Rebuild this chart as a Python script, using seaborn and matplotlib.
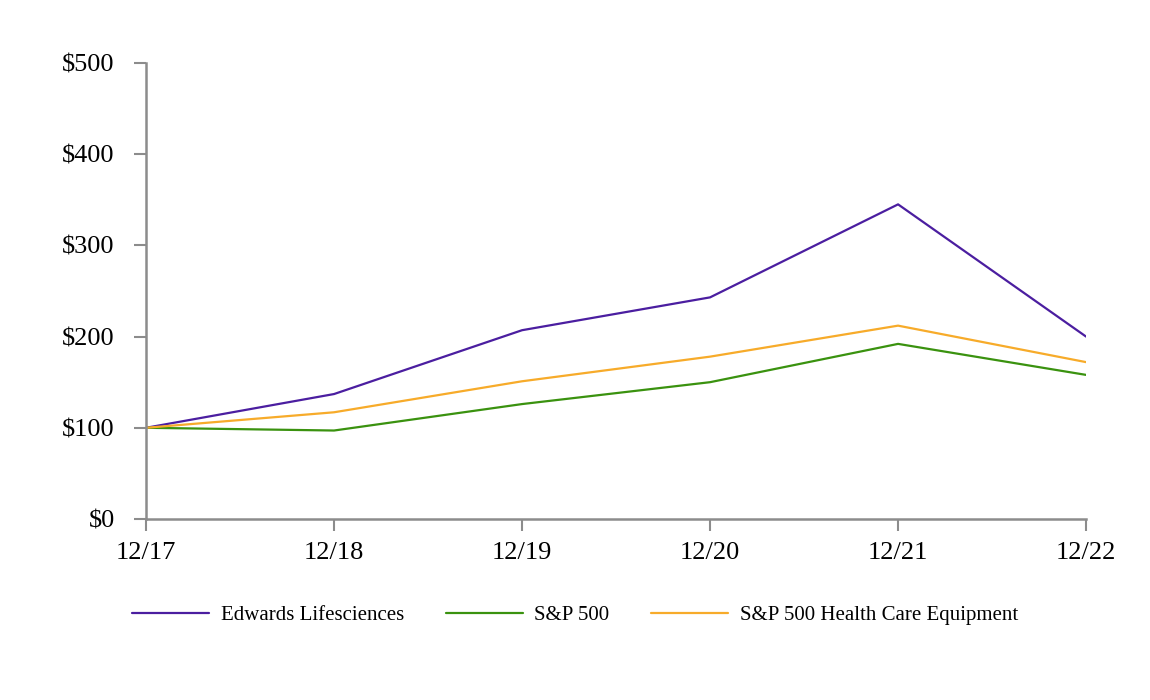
import matplotlib
matplotlib.use("Agg")
import matplotlib.pyplot as plt
import seaborn as sns
import pandas as pd
from matplotlib.lines import Line2D

periods = ["12/17", "12/18", "12/19", "12/20", "12/21", "12/22"]
edwards = [100, 137, 207, 243, 345, 200]
sp500 = [100, 97, 126, 150, 192, 158]
hc_equipment = [100, 117, 151, 178, 212, 172]
series_names = ["Edwards Lifesciences", "S&P 500", "S&P 500 Health Care Equipment"]
y_ticks = [0, 100, 200, 300, 400, 500]
y_labels = ["$0", "$100", "$200", "$300", "$400", "$500"]

colors = ["#4b1ea0", "#3a920f", "#f7ab2a"]

rows = []
for name, vals in zip(series_names, [edwards, sp500, hc_equipment]):
    for i, v in enumerate(vals):
        rows.append({"x": i, "value": v, "series": name})
df = pd.DataFrame(rows)

sns.set_theme(style="white")
plt.rcParams["font.family"] = ["Liberation Serif", "DejaVu Serif"]
plt.rcParams["text.color"] = "black"

fig = plt.figure(figsize=(11.5, 7), dpi=100)
ax = fig.add_axes([0.127, 0.2586, 0.8174, 0.6514])
sns.lineplot(data=df, x="x", y="value", hue="series", palette=colors,
             hue_order=series_names, ax=ax, linewidth=1.6, legend=False)

ax.set_xlim(0, len(periods) - 1)
ax.set_ylim(0, 500)
ax.set_xticks(range(len(periods)))
ax.set_xticklabels(periods, fontsize=19)
ax.set_yticks(y_ticks)
ax.set_yticklabels(y_labels, fontsize=19)
ax.set_xlabel("")
ax.set_ylabel("")
for s in ["top", "right"]:
    ax.spines[s].set_visible(False)
for s in ["left", "bottom"]:
    ax.spines[s].set_color("#8c8c8c")
    ax.spines[s].set_linewidth(1.8)
ax.tick_params(axis="both", which="both", bottom=True, left=True, length=8.5,
               width=1.5, color="#8c8c8c", labelcolor="black", direction="out")
ax.tick_params(axis="y", pad=14)
ax.tick_params(axis="x", pad=8)

handles = [Line2D([0], [0], color=c, lw=1.6) for c in colors]
fig.legend(handles, series_names, loc="center", bbox_to_anchor=(0.5, 0.121),
           ncol=3, frameon=False, fontsize=15, handlelength=3.7,
           handletextpad=0.55, columnspacing=2.0, labelcolor="black")

fig.savefig("out.png", dpi=100)
